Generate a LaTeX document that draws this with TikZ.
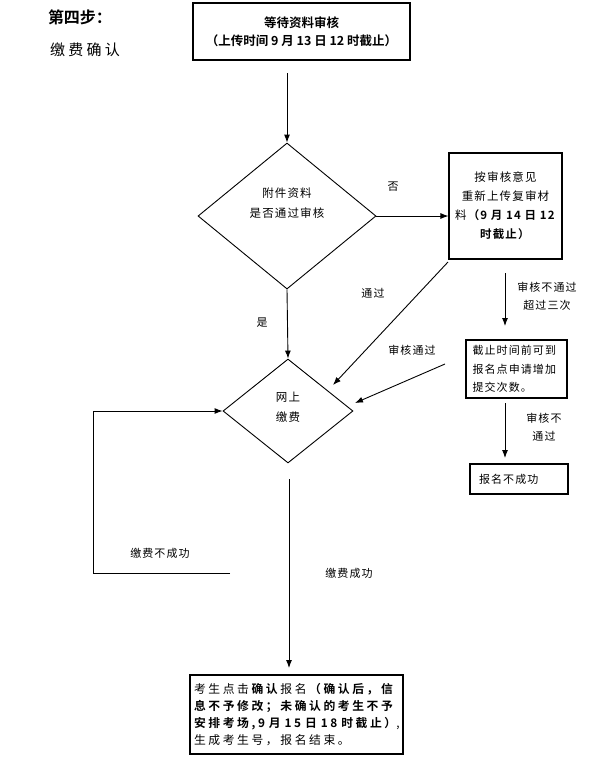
\documentclass[tikz,border=0pt]{standalone}
\usepackage{fontspec}
\setmainfont{Noto Sans CJK SC}[BoldFont={Noto Sans CJK SC Bold}]
\newfontfamily\cjkwide{Noto Sans CJK SC}[LetterSpace=22,BoldFont={Noto Sans CJK SC Bold}]
\newfontfamily\cjksemi{Noto Sans CJK SC}[LetterSpace=10,BoldFont={Noto Sans CJK SC Bold}]
\usetikzlibrary{positioning,arrows.meta,shapes.geometric}
\tikzset{
    headline/.style={
        font=\fontsize{16}{18}\selectfont\bfseries
    },
    subhead/.style={
        font=\cjkwide\fontsize{15}{18}\selectfont
    },
    waitbox/.style={
        draw,
        line width=1.1pt,
        inner sep=0pt,
        align=center
    },
    heavybox/.style={
        draw,
        line width=1.8pt,
        inner sep=0pt,
        align=left
    },
    decision/.style={
        draw,
        diamond,
        line width=0.9pt,
        inner sep=0pt
    },
    decisiontext/.style={
        align=center,
        font=\cjksemi\fontsize{11.5}{20}\selectfont
    },
    note/.style={
        align=center,
        font=\cjksemi\fontsize{11}{18}\selectfont
    },
    arrow/.style={-{Latex[length=8pt,width=6pt]}, line width=0.9pt},
    plain/.style={line width=0.9pt}
}

\begin{document}
\begin{tikzpicture}[x=1pt,y=-1pt]

\useasboundingbox (0,0) rectangle (589,764);

% Heading
\node[headline] (step) at (80,17) {第四步：};
\node[subhead]  (topic) at (85,50) {缴费确认};

% Boxes
\node[waitbox, minimum width=217pt, minimum height=57pt,
      font=\fontsize{12.5}{18}\selectfont\bfseries] (wait) at (301.5,31.5)
{等待资料审核\\（上传时间 9 月 13 日 12 时截止）};

\node[waitbox, minimum width=113pt, minimum height=106pt,
      font=\cjksemi\fontsize{11.5}{19}\selectfont] (resubmit) at (505.5,206)
{按审核意见\\重新上传复审材\\料\textbf{（9 月 14 日 12}\\\textbf{时截止）}};

\node[heavybox, minimum width=101pt, minimum height=58pt, text width=88pt,
      font=\cjksemi\fontsize{11}{18.5}\selectfont] (apply) at (516.5,369)
{截止时间前可到\\报名点申请增加\\提交次数。};

\node[heavybox, minimum width=98pt, minimum height=30pt, text width=80pt,
      font=\cjksemi\fontsize{11}{18}\selectfont] (fail) at (519,479)
{报名不成功};

\node[heavybox, minimum width=213pt, minimum height=79pt, text width=205pt,
      font=\cjkwide\fontsize{11.8}{17.3}\selectfont] (confirm) at (296.5,714.5)
{考生点击\textbf{确认}报名\textbf{（确认后，信}\\
\textbf{息不予修改；未确认的考生不予}\\
\textbf{安排考场,9 月 15 日 18 时截止）},\\
生成考生号，报名结束。};

% Decisions
\node[decision, minimum width=178pt, minimum height=146pt] (check) at (287,216) {};
\node[decisiontext] (checktxt) at (287,203) {附件资料\\是否通过审核};

\node[decision, minimum width=130pt, minimum height=104pt] (pay) at (288,411) {};
\node[decisiontext] (paytxt) at (288,407) {网上\\缴费};

% Free ends
\coordinate (a0) at (287,73);
\coordinate (b0) at (448,262);
\coordinate (b1) at (333,385);
\coordinate (c0) at (505,273);
\coordinate (c1) at (505,326);
\coordinate (e0) at (445,364);
\coordinate (e1) at (355,403);
\coordinate (f0) at (505,403);
\coordinate (f1) at (505,458);
\coordinate (g0) at (230,573);
\coordinate (g1) at (93,573);
\coordinate (g2) at (93,411);
\coordinate (h0) at (289,479);
\coordinate (h1) at (289,668);

% Connectors
\draw[arrow] (a0) -- (check.north);
\draw[arrow] (check.east) -- (check.east -| resubmit.west);
\draw[arrow] (check.south) -- (pay.north);
\draw[arrow] (b0) -- (b1);
\draw[arrow] (c0) -- (c1);
\draw[arrow] (e0) -- (e1);
\draw[arrow] (f0) -- (f1);
\draw[arrow] (g0) -- (g1) -- (g2) -- (pay.west);
\draw[arrow] (h0) -- (h1);

% Labels
\node[note] (no)      at (393,187) {否};
\node[note] (yes)     at (262,323) {是};
\node[note] (passed)  at (373,293) {通过};
\node[note] (thrice)  at (547,296) {审核不通过\\超过三次};
\node[note] (okay)    at (412,350) {审核通过};
\node[note] (notpass) at (544,427) {审核不\\通过};
\node[note] (payfail) at (160,553) {缴费不成功};
\node[note] (payok)   at (349,573) {缴费成功};

\end{tikzpicture}
\end{document}
